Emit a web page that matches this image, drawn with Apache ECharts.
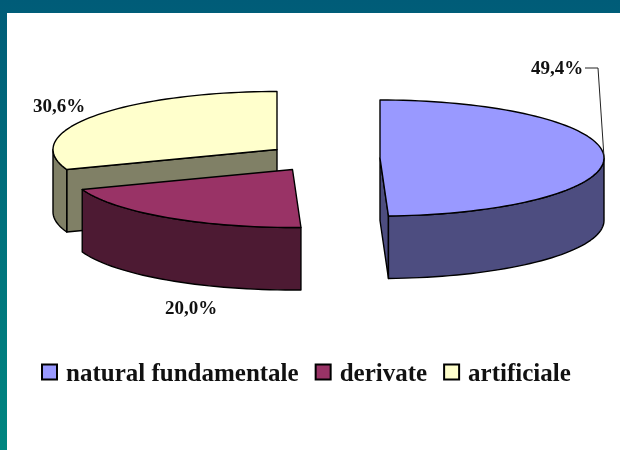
<!DOCTYPE html>
<html>
<head>
<meta charset="utf-8">
<style>
  html,body{margin:0;padding:0;background:#fff}
  #chart{width:620px;height:450px}
</style>
<script src="https://cdn.jsdelivr.net/npm/echarts@6/dist/echarts.min.js"></script>
</head>
<body>
<div id="chart"></div>
<script>
var categories=['natural fundamentale','derivate','artificiale'];
var shares=[49.4,20.0,30.6];

var topColors=['#9999ff','#993366','#ffffcc'];
var sideColors=['#4d4d80','#4d1a33','#808066'];
// where each exploded slice has its apex
var centers=[[380,158],[292.5,169.5],[277,149.5]];
var labelPos=[[531,69.5],[165,309.5],[33,107.5]];
var rx=224,ry=58,depth=62.5;
var fontName='"Liberation Serif","Times New Roman",serif';

var total=shares.reduce(function(a,b){return a+b},0);
function startAngle(i){
  var s=0;
  for(var k=0;k<i;k++)s+=shares[k];
  return s/total*360;
}
function pt(c,deg,dy){
  var r=deg*Math.PI/180;
  return [c[0]+rx*Math.sin(r),c[1]-ry*Math.cos(r)+(dy||0)];
}
function rim(c,a0,a1,dy){
  var pts=[],n=Math.max(2,Math.ceil(Math.abs(a1-a0)/2));
  for(var j=0;j<=n;j++)pts.push(pt(c,a0+(a1-a0)*j/n,dy));
  return pts;
}
function poly(points,fill,z2){
  return {type:'polygon',z2:z2,shape:{points:points},
    style:{fill:fill,stroke:'#000',lineWidth:1.4,lineJoin:'round'}};
}

function renderSlice(params,api){
  var i=params.seriesIndex;
  var value=api.value(0);
  var c=centers[i];
  var a0=startAngle(i);
  var a1=a0+value/total*360;
  var kids=[];
  // straight cut faces, only the ones that face the viewer
  if(i==0){
    var e=pt(c,a1);
    kids.push(poly([c,e,[e[0],e[1]+depth],[c[0],c[1]+depth]],sideColors[i],1));
  }
  if(i==2){
    var s=pt(c,a0);
    kids.push(poly([c,s,[s[0],s[1]+depth],[c[0],c[1]+depth]],sideColors[i],1));
  }
  // outer wall
  var w0=Math.max(a0,90),w1=Math.min(a1,270);
  if(w1>w0){
    kids.push(poly(rim(c,w0,w1,0).concat(rim(c,w1,w0,depth)),sideColors[i],2));
  }
  // top
  kids.push(poly([c].concat(rim(c,a0,a1,0)),topColors[i],3));
  // value label
  kids.push({type:'text',z2:5,x:labelPos[i][0],y:labelPos[i][1],style:{
    text:value.toFixed(1).replace('.',',')+'%',
    font:'bold 19px '+fontName,fill:'#111',verticalAlign:'middle'
  }});
  if(i==0){
    kids.push({type:'polyline',z2:5,shape:{points:[[585,68],[598,68],[604,157]]},
      style:{fill:null,stroke:'#222',lineWidth:1}});
  }
  return {type:'group',children:kids};
}

var chart=echarts.init(document.getElementById('chart'));
var option={
  animation:false,
  backgroundColor:{type:'linear',x:0,y:0,x2:0,y2:1,colorStops:[
    {offset:0,color:'#005c78'},{offset:1,color:'#008680'}]},
  graphic:[{type:'rect',z:-10,shape:{x:7,y:13,width:613,height:437},style:{fill:'#fff'}}],
  legend:{
    left:36,top:357.5,
    itemWidth:15,itemHeight:15,itemGap:16,
    icon:'rect',
    selectedMode:false,
    data:categories,
    formatter:function(name){return '{t|'+name+'}'},
    textStyle:{rich:{t:{fontFamily:fontName,fontWeight:'bold',fontSize:25,color:'#111',padding:[6,0,0,4]}}}
  },
  series:categories.map(function(name,i){
    return {
      type:'custom',
      name:name,
      coordinateSystem:'none',
      silent:true,
      z:2+[2,1,0][i],
      renderItem:renderSlice,
      itemStyle:{color:topColors[i],borderColor:'#000',borderWidth:1.5},
      data:[[shares[i]]]
    };
  })
};
chart.setOption(option);
window.addEventListener('resize',function(){chart.resize()});
</script>
</body>
</html>
